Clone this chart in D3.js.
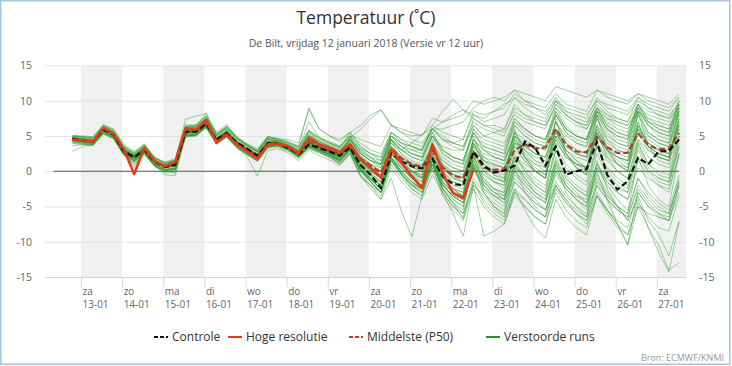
<!DOCTYPE html>
<html>
<head>
<meta charset="utf-8">
<script src="https://cdnjs.cloudflare.com/ajax/libs/d3/7.8.5/d3.min.js"></script>
<style>
body { margin: 0; background: #fff; }
svg { display: block; font-family: "Open Sans", sans-serif; }
</style>
</head>
<body>
<svg id="chart" width="732" height="366"></svg>
<script>
var startTime = "2018-01-12T19:00";   // first forecast step
var stepHours = 6;

var controle = [4.6,4.4,4.2,5.9,5.2,2.8,2.0,3.0,1.3,0.6,0.9,5.6,5.6,6.7,4.5,5.4,4.1,3.2,2.2,4.0,
  3.9,3.3,2.4,3.8,3.3,2.8,2.2,3.4,0.9,-0.5,-2.4,2.6,1.4,0.7,0.4,1.8,-0.7,-1.8,-2.0,2.8,
  0.8,-0.2,0.1,0.8,4.2,3.3,0.8,3.5,-0.5,0.0,0.3,4.2,-0.5,-2.6,-1.4,1.9,1.0,2.8,2.9,4.5];

var hogeResolutie = [4.5,4.4,4.2,6.1,5.3,3.1,-0.4,3.3,1.4,0.7,1.3,6.1,5.9,7.3,4.0,5.2,3.8,2.8,1.8,3.8,
  3.9,3.5,2.5,4.7,3.8,3.3,2.7,3.8,1.7,0.5,-0.9,3.1,1.2,-0.7,-2.4,3.8,-0.2,-3.1,-3.8,0.2];

var middelste = [4.5,4.3,4.1,5.9,5.2,3.0,1.8,3.2,1.4,0.7,1.0,5.5,5.6,6.8,4.4,5.4,4.0,3.0,2.2,4.0,
  3.9,3.4,2.6,4.2,3.4,2.9,2.4,3.6,1.8,0.8,-0.2,3.2,1.8,1.0,0.6,3.0,0.5,-0.6,-1.0,2.6,
  0.5,0.2,0.3,3.0,3.8,3.2,3.4,6.0,3.8,2.8,2.7,4.9,3.4,2.6,2.6,5.4,3.7,3.1,3.2,5.4];

var verstoord = [
 [4.7,4.5,4.3,6.1,5.3,3.0,2.2,3.2,1.4,0.7,1.0,5.8,5.8,7.1,4.7,5.6,4.2,3.1,2.4,4.2, 4.1,3.6,2.8,4.5,3.6,3.0,2.4,4.0,1.8,0.6,-0.5,3.4,2.2,1.2,0.8,3.2,0.8,-0.4,-0.8,3.0, 1.5,0.8,0.5,4.0,3.5,2.5,2.0,5.5,3.0,2.0,1.5,5.0,3.0,2.0,1.5,6.0,4.0,3.0,2.5,6.5],
 [4.4,4.2,4.0,5.7,5.0,2.6,1.6,2.8,1.0,0.3,0.5,5.2,5.3,6.6,4.2,5.2,3.7,2.7,1.8,3.7, 3.6,3.0,2.0,3.8,3.0,2.4,1.6,3.0,0.4,-1.0,-2.5,2.4,1.0,-0.2,-1.0,1.5,-1.5,-3.0,-3.5,1.5, -1.5,-3.0,-3.5,0.5,-0.5,-2.0,-3.0,1.5,-1.0,-2.5,-3.5,1.0,-1.5,-3.0,-4.0,0.5,-1.0,-2.0,-2.5,2.5],
 [5.1,5.0,4.9,6.6,6.0,3.8,2.8,3.9,2.0,1.3,1.8,6.6,6.5,7.9,5.4,6.4,4.9,3.9,3.2,5.0, 4.5,4.0,3.5,5.8,4.6,4.0,3.5,5.0,4.0,3.0,2.5,5.5,4.5,4.0,3.5,6.0,4.5,4.0,3.5,7.0, 6.0,5.5,5.0,8.5,7.5,7.0,6.5,9.5,8.0,7.0,6.5,10.0,8.5,7.5,7.0,10.5,9.0,8.0,7.5,10.0],
 [4.0,3.9,3.7,5.4,4.7,2.3,1.5,2.5,0.8,0.1,0.3,5.0,5.1,6.2,4.0,5.0,3.5,2.4,1.6,3.4, 3.8,3.2,2.2,3.5,3.2,2.6,2.0,3.2,0.5,-1.5,-3.0,2.0,0.5,-1.0,-2.0,1.0,-2.5,-4.0,-5.0,0.5, -2.5,-4.0,-5.0,-1.0,-2.5,-4.0,-5.5,-1.5,-3.5,-5.0,-6.0,-2.0,-4.0,-5.5,-6.5,-2.5,-4.5,-6.0,-7.0,-3.0],
 [4.6,4.4,4.3,6.0,5.2,2.9,2.1,3.1,1.3,0.6,1.0,5.7,5.6,7.0,4.6,5.5,4.0,3.0,2.3,4.1, 4.0,3.4,2.5,4.0,3.4,2.8,2.0,3.5,1.0,-0.5,-2.0,2.5,1.0,0.0,-1.0,2.0,-1.0,-2.5,-3.5,1.5, -1.0,-2.5,-3.5,1.0,-1.0,-2.5,-3.5,0.5,-2.0,-3.5,-4.5,-0.5,-3.0,-5.0,-7.0,-4.0,-8.0,-11.5,-14.3,-7.2],
 [4.5,4.4,4.2,5.9,5.1,2.7,2.0,3.0,1.2,0.5,0.8,5.5,5.6,6.8,4.5,5.4,3.9,2.9,2.0,3.9, 3.8,3.2,2.2,3.6,3.0,2.5,1.8,3.0,0.2,-1.5,-3.0,1.5,-0.5,-2.0,-3.0,0.5,-3.0,-5.0,-6.5,-1.5, -4.0,-5.5,-6.5,-2.5,-4.0,-5.5,-6.5,-2.0,-4.5,-6.0,-7.0,-3.0,-5.5,-7.5,-9.0,-5.0,-8.0,-10.5,-14.0,-13.0],
 [5.0,4.9,4.7,6.4,5.9,3.6,2.7,3.8,1.9,1.2,1.6,6.4,6.4,7.8,5.3,6.3,4.8,3.8,3.0,4.9, 4.4,4.0,3.4,5.5,4.8,4.2,3.6,5.2,4.5,4.0,3.5,6.5,6.0,5.5,5.0,7.5,7.0,7.5,8.0,10.0, 9.5,10.0,10.5,11.5,10.0,9.5,9.0,11.0,9.5,9.0,8.5,11.5,10.5,10.0,9.5,11.0,10.0,9.5,9.0,10.5],
 [4.9,4.8,4.6,6.3,5.6,3.4,2.4,3.6,1.8,1.1,1.5,6.3,6.2,7.6,5.1,6.1,4.6,3.6,2.8,4.6, 4.3,3.8,3.0,5.0,4.2,3.6,3.0,4.6,3.2,2.5,2.0,5.0,4.0,3.5,3.0,6.5,5.5,5.0,4.5,8.5, 8.0,8.5,9.0,11.0,10.0,9.0,8.0,10.5,8.5,7.5,7.0,9.5,8.0,7.0,6.5,9.0,8.0,7.5,7.0,9.5],
 [4.6,4.5,4.2,6.0,5.2,2.8,1.9,3.0,1.3,0.6,0.9,5.6,5.6,6.9,4.5,5.5,4.0,3.0,2.2,4.0, 3.9,3.4,2.5,4.5,3.4,2.8,2.0,4.0,1.5,0.0,-1.5,3.5,1.5,0.0,-1.0,3.5,0.0,-1.5,-2.0,4.0, 1.0,-0.5,-1.5,5.0,2.0,0.0,-1.0,6.0,2.5,0.5,-0.5,6.5,3.0,1.0,0.0,7.0,3.5,2.0,1.5,7.5],
 [4.7,4.6,4.4,6.2,5.5,3.1,2.2,3.3,1.6,0.9,1.4,6.4,6.6,7.8,5.0,6.3,4.6,3.6,2.8,4.8, 4.6,4.5,4.0,8.8,6.0,5.0,4.5,5.5,6.5,8.0,8.7,6.5,5.5,5.0,5.2,6.0,7.0,8.0,8.7,7.5, 6.5,6.0,5.5,8.0,7.0,6.5,6.0,9.5,8.0,7.0,6.5,9.0,8.0,7.5,7.0,9.5,8.5,8.0,7.5,9.0],
 [4.2,4.0,3.8,5.5,4.7,2.3,1.4,2.4,0.7,0.0,0.2,4.9,5.0,6.2,3.9,4.9,3.4,2.4,1.5,3.4, 3.7,3.1,2.0,3.5,2.8,2.0,1.0,2.5,-0.5,-2.0,-4.0,-1.0,-5.7,-9.3,-3.5,2.4,-1.5,-4.0,-5.0,1.0, -2.0,-3.5,-4.5,-0.5,-2.0,-3.5,-4.5,0.0,-2.0,-3.5,-4.0,1.0,-1.0,-2.5,-3.0,2.0,0.0,-1.0,-1.5,3.5],
 [4.6,4.4,4.2,5.9,5.1,2.8,2.0,2.9,1.2,0.5,0.8,5.5,5.5,6.8,4.4,5.4,3.9,2.9,2.1,3.9, 3.8,3.2,2.3,3.6,3.0,2.4,1.6,3.2,0.5,-1.0,-2.5,2.0,0.0,-1.5,-2.5,1.5,-3.0,-6.0,-9.2,-2.0, -3.5,-5.0,-6.0,-1.5,-3.0,-4.5,-5.5,-0.5,-2.5,-4.0,-5.0,0.5,-1.5,-3.0,-4.0,1.5,-0.5,-2.0,-3.0,2.5],
 [4.8,4.6,4.4,6.1,5.3,3.0,2.1,3.2,1.4,0.7,1.1,5.8,5.8,7.1,4.7,5.7,4.1,3.1,2.3,4.1, 4.0,3.6,2.8,4.6,3.8,3.0,2.4,4.2,2.0,1.0,0.5,4.0,3.0,4.0,5.2,6.5,8.5,10.2,8.7,8.0, 7.5,8.5,9.5,10.4,9.0,8.0,7.5,10.0,8.0,7.0,6.0,9.0,7.5,6.5,6.0,8.5,7.0,6.5,6.0,8.0],
 [3.9,3.8,3.6,5.3,4.6,2.3,1.4,2.5,0.7,-0.1,0.2,4.9,5.0,6.2,3.9,4.8,3.3,2.3,1.4,3.3, 3.7,3.0,2.0,3.4,2.8,2.2,1.4,3.0,0.0,-1.5,-3.0,1.5,-0.5,-2.0,-3.0,1.0,-2.5,-4.5,-6.0,-2.0, -9.2,-8.5,-7.5,-3.0,-4.0,-5.5,-6.5,-2.0,-4.0,-5.5,-6.5,-1.5,-3.5,-5.0,-6.0,-1.0,-3.0,-4.5,-5.5,-0.5],
 [4.6,4.4,4.2,6.0,5.3,3.1,0.5,3.2,1.4,0.7,1.3,6.0,5.8,7.2,4.2,5.3,3.8,2.9,1.9,3.9, 3.9,3.5,2.6,4.6,3.8,3.3,2.7,3.8,1.8,0.5,-0.8,3.1,1.3,-0.5,-2.2,3.7,0.0,-2.8,-3.5,0.5, -0.5,-1.5,-2.0,2.0,1.0,0.0,-0.5,4.0,2.0,1.0,0.5,5.0,3.0,2.0,1.5,5.5,3.5,2.5,2.0,6.0],
 [4.5,4.4,4.3,6.0,5.2,2.9,1.2,3.1,1.3,0.6,1.0,5.8,5.7,7.0,4.4,5.4,3.9,3.0,2.0,3.9, 4.0,3.5,2.7,5.0,3.8,3.2,2.5,4.0,2.0,0.8,0.0,4.5,2.5,1.0,0.0,4.0,1.0,-0.5,-1.0,4.5, 3.0,2.5,2.0,6.5,5.0,4.0,3.5,8.0,5.5,4.0,3.5,8.5,6.0,4.5,4.0,9.0,6.5,5.0,4.5,9.0],
 [4.7,4.5,4.3,5.9,5.2,2.9,2.3,3.1,1.5,0.8,1.0,5.5,5.5,6.8,4.6,5.6,4.1,3.1,2.3,4.1, 4.0,3.5,2.6,4.2,3.5,3.0,2.4,3.8,1.5,0.2,-1.0,3.0,1.5,0.5,0.0,3.0,0.5,-0.5,-1.0,3.5, 1.5,1.0,0.5,3.5,2.0,1.0,0.5,4.5,2.0,1.0,0.5,4.0,2.0,1.0,0.5,4.5,3.0,2.0,1.5,5.0],
 [4.2,4.0,3.9,5.5,4.8,2.4,1.2,2.6,0.8,-0.5,-0.6,5.0,5.1,6.3,4.0,4.9,3.4,2.4,1.5,3.4, 3.6,3.0,2.0,3.2,2.6,2.0,1.2,2.6,-0.5,-2.5,-4.0,0.5,-1.5,-3.0,-4.0,-0.5,-3.0,-5.0,-6.0,-1.0, -3.0,-4.5,-5.5,-1.5,-3.0,-4.5,-5.5,-2.0,-4.0,-6.0,-7.5,-3.5,-5.5,-7.5,-10.5,-5.0,-6.0,-6.5,-7.0,-2.0],
 [4.7,4.5,4.3,6.1,5.4,3.0,2.2,3.3,1.5,0.8,1.1,5.7,5.7,7.0,4.7,5.7,4.2,3.2,2.4,4.3, 4.2,3.7,3.0,5.5,4.5,3.8,3.2,5.0,3.0,2.0,1.5,5.0,3.5,2.5,2.0,5.5,3.0,2.0,1.5,6.0, 4.0,3.5,3.0,7.5,6.0,5.0,4.5,9.0,6.5,5.0,4.5,9.0,6.5,5.5,5.0,9.5,7.0,6.0,5.5,9.5],
 [4.5,4.4,4.2,5.9,5.2,2.8,1.7,3.0,1.2,0.5,0.8,5.5,5.4,6.7,4.3,5.4,3.9,2.9,2.0,3.9, 3.8,3.2,2.3,3.8,3.1,2.5,1.6,3.2,0.5,-1.0,-2.0,2.5,0.5,-1.0,-1.5,2.5,-1.0,-2.5,-3.0,2.0, -1.0,-2.5,-3.0,2.5,0.0,-2.0,-3.0,3.0,-0.5,-2.0,-3.0,3.5,0.0,-1.5,-2.5,3.5,0.5,-1.0,-1.5,4.0],
 [4.8,4.5,4.3,6.0,5.3,3.0,2.1,3.1,1.4,0.7,1.0,5.7,5.6,6.9,4.6,5.6,4.1,3.1,2.3,4.1, 4.0,3.4,2.5,4.3,3.6,3.0,2.4,3.9,1.6,0.4,-0.8,3.2,1.8,0.6,0.0,3.3,0.8,-0.8,-1.5,3.0, 0.5,-0.5,-1.0,4.5,2.5,1.0,0.0,6.0,3.0,1.5,0.5,6.0,3.5,2.0,1.0,6.5,3.5,2.5,2.0,7.0],
 [4.6,4.4,4.2,5.9,5.3,2.9,2.1,3.1,1.3,0.6,0.9,5.6,5.7,7.0,4.5,5.5,4.0,3.0,2.2,4.0, 4.0,3.4,2.5,4.0,3.3,2.7,2.0,3.6,1.0,-0.5,-1.5,3.0,1.0,-0.5,-1.0,2.5,-0.5,-2.0,-2.5,2.5, 0.0,-1.0,-1.5,3.0,1.5,0.0,-1.0,4.5,2.0,0.5,-0.5,5.0,2.5,1.0,0.0,5.5,3.0,2.0,1.5,6.0],
 [4.7,4.6,4.4,6.1,5.4,3.1,2.3,3.2,1.5,0.8,1.2,5.9,5.9,7.2,4.7,5.7,4.2,3.2,2.4,4.2, 4.1,3.6,2.8,5.2,4.2,3.5,2.8,4.5,2.5,1.5,1.0,4.5,3.0,2.5,2.0,5.0,3.5,3.0,3.0,6.5, 5.0,5.5,6.0,9.5,8.0,7.0,6.5,9.0,7.5,6.5,6.0,8.5,7.5,7.0,6.5,8.5,7.5,7.0,6.5,8.5],
 [3.6,3.8,3.7,5.3,4.6,2.3,1.1,2.3,0.7,-0.2,0.0,5.1,5.2,6.3,3.9,4.9,3.4,2.4,1.4,3.4, 3.6,3.0,2.0,3.4,2.8,2.2,1.4,2.9,0.0,-1.5,-3.0,1.5,0.5,-1.0,-2.0,1.5,-2.0,-3.5,-4.5,0.5, -2.0,-3.0,-4.0,0.0,-1.5,-3.0,-4.0,1.0,-1.5,-3.0,-4.5,0.5,-2.0,-4.0,-5.5,-1.0,-3.5,-5.0,-6.0,-1.5],
 [4.6,4.5,4.3,6.1,5.2,2.9,2.0,3.3,1.4,0.7,1.1,5.9,5.7,7.2,4.5,5.8,4.1,3.1,2.2,4.3, 4.0,3.4,2.5,5.8,3.8,3.0,2.2,5.0,1.5,0.0,-1.0,4.5,1.0,-1.0,-2.0,4.5,-0.5,-2.5,-3.5,5.0, 1.5,0.0,-1.0,6.0,2.0,0.0,-1.0,7.5,2.5,0.5,-0.5,8.0,3.0,1.0,0.0,8.5,3.5,1.5,1.0,9.0],
 [4.7,4.4,4.2,6.0,5.1,2.8,2.1,3.1,1.3,0.6,0.9,5.5,5.5,6.8,4.5,5.5,4.0,3.0,2.2,4.0, 3.9,3.3,2.4,4.0,3.3,2.8,2.1,3.4,1.2,0.0,-1.0,3.0,1.8,1.0,0.5,3.5,1.5,0.5,0.0,4.0, 2.5,2.0,1.5,5.0,4.0,3.5,3.0,6.0,4.0,3.0,2.5,6.5,4.5,3.5,3.0,7.0,5.0,4.0,3.5,7.5],
 [4.5,4.3,4.1,5.8,5.0,2.7,1.9,2.9,1.2,0.5,0.8,5.4,5.5,6.7,4.4,5.4,3.9,2.9,2.1,3.8, 3.7,3.1,2.1,3.7,3.0,2.3,1.5,3.2,0.2,-1.5,-3.0,2.0,-0.5,-2.5,-3.5,1.5,-2.5,-4.5,-5.5,1.0, -3.0,-5.0,-6.0,0.5,-3.0,-5.0,-6.5,1.0,-3.0,-5.0,-6.5,1.5,-2.5,-5.0,-6.0,2.0,-2.0,-4.0,-5.0,2.5],
 [4.6,4.5,4.3,6.0,5.3,3.0,2.2,3.2,1.4,0.7,1.0,5.7,5.7,7.0,4.6,5.6,4.1,3.1,2.3,4.1, 4.1,3.6,2.7,4.8,3.9,3.3,2.6,4.3,2.2,1.0,0.0,4.0,2.5,1.5,1.0,4.0,2.0,1.0,0.5,4.5, 3.0,2.0,1.5,5.5,4.5,3.5,3.0,7.0,5.0,4.0,3.5,7.5,5.0,4.0,3.5,8.0,5.5,4.5,4.0,8.0],
 [5.0,4.9,4.8,6.6,5.8,3.5,2.6,3.7,1.9,1.2,1.6,6.3,6.3,7.6,5.1,6.1,4.6,3.6,2.8,4.6, 4.1,3.6,2.8,5.0,4.0,3.4,2.7,4.5,2.5,1.5,1.0,5.0,3.5,3.0,3.0,6.0,6.0,6.5,7.0,9.0, 10.0,10.5,10.0,11.5,11.0,10.5,10.0,12.0,11.5,11.0,10.5,11.5,11.0,10.5,10.0,11.0,10.5,10.0,9.5,11.0],
 [4.5,4.4,4.2,5.9,5.2,2.8,2.0,3.0,1.3,0.6,0.9,5.6,5.6,6.9,4.5,5.5,4.0,3.0,2.1,4.0, 3.9,3.3,2.4,3.9,3.2,2.6,1.8,3.3,0.7,-0.8,-2.0,2.5,0.5,-1.0,-2.0,2.0,-1.5,-3.0,-4.0,2.0, -0.5,-1.5,-2.0,3.5,1.5,0.0,-1.0,5.0,2.5,1.0,0.5,5.5,3.0,2.0,1.5,6.5,4.0,3.0,2.5,7.0],
 [4.6,4.5,4.3,6.1,5.4,3.0,2.2,3.3,1.5,0.8,1.2,6.0,6.0,7.4,4.8,5.9,4.3,3.3,2.5,4.5, 4.3,3.8,3.2,7.0,4.8,4.0,3.3,5.5,3.5,2.5,1.5,5.5,4.0,3.0,2.5,5.5,3.0,2.0,1.5,5.5, 3.0,2.0,1.5,5.0,3.5,2.5,2.0,6.0,3.5,2.5,2.0,6.0,4.0,3.0,2.5,6.5,4.5,3.5,3.0,7.0],
 [4.4,4.3,4.1,5.8,5.1,2.7,1.8,2.8,1.1,0.4,0.7,5.4,5.4,6.7,4.4,5.3,3.8,2.8,2.0,3.9, 3.7,3.1,2.2,3.6,2.9,2.3,1.5,3.0,0.3,-1.2,-2.5,1.8,-0.2,-1.5,-2.5,1.5,-1.5,-3.0,-3.5,2.0, 0.0,-1.0,-1.5,4.0,2.0,0.5,-0.5,5.0,2.5,1.0,0.0,5.5,2.0,0.0,-1.0,4.0,1.0,-0.5,-1.0,4.5],
 [4.3,4.1,3.9,5.6,4.9,2.5,1.6,2.6,0.9,0.2,0.4,5.2,5.2,6.4,4.2,5.2,3.7,2.7,1.8,3.7, 3.8,3.2,2.3,3.6,3.0,2.4,1.6,3.1,0.4,-1.0,-2.5,2.0,0.0,-1.5,-2.5,1.0,-2.5,-4.5,-6.8,-1.5, -4.5,-6.0,-7.0,-3.0,-5.0,-6.5,-7.5,-3.0,-5.5,-7.0,-8.0,-3.5,-6.0,-8.0,-9.0,-4.5,-6.5,-8.0,-8.5,-3.5],
 [4.7,4.5,4.3,6.0,5.3,2.9,2.1,3.1,1.4,0.7,1.0,5.6,5.6,6.9,4.6,5.6,4.1,3.1,2.3,4.1, 4.0,3.5,2.6,4.3,3.5,2.9,2.2,3.8,1.4,0.2,-0.5,3.5,2.0,1.0,0.5,4.0,1.5,0.5,0.0,4.5, 2.0,1.5,1.0,5.5,3.5,2.5,2.0,7.0,4.5,3.0,2.5,8.0,5.5,4.0,3.5,8.5,5.5,4.5,4.0,8.5],
 [4.8,4.6,4.4,6.3,5.5,3.2,2.4,3.5,1.6,0.9,1.5,7.4,7.8,8.2,5.2,6.4,4.6,3.6,2.7,4.6, 4.4,4.0,3.2,5.2,4.3,3.6,2.9,4.6,2.6,1.5,0.8,4.5,3.0,2.0,1.5,5.0,2.5,1.5,1.0,5.5, 3.5,3.0,2.5,6.5,5.0,4.0,3.5,8.0,5.5,4.5,4.0,8.5,6.0,5.0,4.5,9.0,6.5,5.5,5.0,9.5],
 [2.8,3.5,3.8,5.4,4.8,2.5,1.5,2.6,0.9,0.1,-0.3,5.0,5.2,6.4,4.0,5.0,3.5,2.5,1.5,3.5, 3.4,2.8,1.8,3.3,2.6,2.0,1.0,2.6,-0.5,-2.0,-3.5,1.0,-1.0,-2.5,-3.5,0.5,-3.5,-5.5,-7.0,-2.5, -5.0,-6.5,-7.5,-3.5,-5.0,-6.5,-7.5,-2.5,-4.5,-6.0,-7.0,-2.0,-4.0,-5.5,-6.5,-2.0,-4.0,-5.5,-6.0,-1.5],
 [4.5,4.3,4.1,5.7,5.0,2.6,1.7,2.8,1.0,0.2,0.5,5.2,5.3,6.5,4.1,5.0,3.3,2.0,-0.7,3.0, 3.2,2.6,1.5,3.0,2.2,1.6,0.8,2.4,-0.8,-2.0,-3.0,1.5,-0.5,-2.0,-2.5,1.0,-2.0,-3.5,-4.0,1.5, -1.5,-2.5,-3.0,2.0,0.0,-1.5,-2.5,3.0,0.5,-1.0,-2.0,3.5,0.5,-1.0,-2.0,4.0,1.0,0.0,-0.5,5.0],
 [4.7,4.6,4.4,6.2,5.5,3.2,2.3,3.4,1.6,0.9,1.3,6.2,6.4,8.3,5.5,6.7,4.8,3.8,2.9,4.8, 4.7,4.2,3.5,5.8,4.8,4.0,3.4,5.0,3.0,2.0,1.0,4.5,3.5,2.5,2.0,5.0,3.0,2.0,1.5,6.0, 4.5,4.0,3.5,7.0,6.0,5.0,4.5,8.0,6.0,5.0,4.5,8.0,6.0,5.0,4.5,8.5,6.5,5.5,5.0,9.0],
 [4.9,4.8,4.6,6.4,5.6,3.4,2.5,3.6,1.8,1.1,1.4,6.1,6.2,7.6,5.0,6.1,4.6,3.7,2.9,4.9, 4.5,4.2,3.5,9.0,6.0,5.0,4.2,5.5,3.5,2.5,2.0,5.5,4.5,3.5,3.0,6.0,4.5,3.5,3.0,7.5, 6.5,6.5,6.0,9.0,8.0,7.5,7.0,10.0,8.5,8.0,7.5,10.5,9.0,8.5,8.0,10.0,9.0,8.5,8.0,9.5],
 [4.6,4.4,4.2,6.0,5.2,2.9,2.0,3.1,1.3,0.6,1.0,5.6,5.6,6.9,4.5,5.6,4.1,3.1,2.2,4.1, 4.1,3.6,2.8,4.5,3.8,3.2,2.6,4.8,5.9,7.5,8.7,6.6,5.5,4.5,4.0,6.0,5.0,4.0,3.5,6.5, 5.0,4.5,4.0,7.5,6.0,5.0,4.5,8.5,6.0,5.0,4.5,8.5,7.0,6.0,5.5,9.5,7.5,6.5,6.0,10.0],
 [4.5,4.4,4.2,5.9,5.2,2.8,2.0,3.0,1.3,0.6,0.8,5.5,5.6,6.8,4.5,5.5,4.0,3.0,2.2,4.0, 3.9,3.3,2.4,4.2,3.3,2.6,1.9,3.6,1.0,-0.5,-1.5,3.0,1.5,0.0,-0.5,3.5,0.5,-1.0,-1.5,4.0, 1.5,0.5,0.0,4.5,3.0,1.5,0.5,5.5,3.0,1.5,0.5,5.5,3.0,1.5,0.5,6.0,3.5,2.5,2.0,6.5],
 [4.7,4.5,4.3,6.0,5.3,2.9,2.2,3.1,1.4,0.7,1.0,5.7,5.6,6.9,4.6,5.6,4.1,3.1,2.3,4.1, 4.0,3.4,2.5,4.0,3.4,2.8,2.1,3.5,1.2,-0.3,-1.5,2.8,1.2,0.0,-0.8,2.8,0.0,-1.5,-2.0,3.0, 0.0,-1.5,-2.5,2.0,0.5,-1.0,-2.0,3.5,1.0,-0.5,-1.5,4.0,1.5,0.0,-1.0,4.5,2.0,1.0,0.5,5.0],
 [4.1,4.0,3.8,5.5,4.8,2.4,1.5,2.6,0.8,0.1,0.3,5.1,5.1,6.4,4.1,5.1,3.6,2.6,1.8,3.6, 3.7,3.1,2.1,3.5,2.8,2.1,1.2,2.8,0.0,-1.5,-3.0,1.5,-0.5,-2.0,-3.0,1.0,-2.0,-3.5,-4.5,0.5, -3.0,-5.0,-6.5,-2.5,-5.5,-8.0,-9.5,-4.0,-6.5,-8.0,-9.0,-3.5,-5.5,-7.0,-8.0,-3.0,-5.0,-6.5,-7.0,-2.0],
 [4.6,4.5,4.3,6.0,5.3,3.0,2.2,3.2,1.4,0.7,1.0,5.7,5.7,7.0,4.6,5.6,4.1,3.1,2.3,4.1, 4.1,3.6,2.7,4.4,3.6,3.0,2.4,4.0,2.0,1.0,0.0,3.5,2.0,1.0,0.5,3.5,1.0,0.0,-0.5,3.5, 2.0,1.0,0.5,4.0,3.0,2.0,1.5,5.0,3.5,2.5,2.0,5.5,3.5,2.5,2.0,6.0,4.0,3.0,2.5,6.5],
 [4.7,4.5,4.3,6.1,5.3,3.0,2.1,3.2,1.4,0.7,1.1,5.8,5.7,7.0,4.6,5.7,4.2,3.2,2.4,4.2, 4.1,3.6,2.8,4.8,4.0,3.3,2.6,4.4,2.5,1.5,0.5,4.5,3.0,2.0,1.5,5.0,2.5,1.5,1.0,5.5, 3.5,3.0,2.5,7.0,5.5,4.5,4.0,8.5,6.0,5.0,4.5,9.0,6.5,5.5,5.0,9.5,7.0,6.0,5.5,10.0],
 [4.3,4.2,4.0,5.6,4.9,2.5,0.8,2.7,0.9,0.2,0.4,5.2,5.2,6.5,4.1,5.1,3.6,2.6,1.8,3.6, 3.8,3.2,2.2,3.6,2.9,2.3,1.5,3.0,0.2,-1.2,-2.5,1.8,-0.3,-1.8,-2.5,1.5,-2.0,-3.5,-4.5,1.0, -1.5,-3.0,-4.0,1.0,-1.5,-3.0,-4.5,1.5,-2.0,-4.0,-5.5,0.0,-4.0,-7.5,-10.4,-3.0,-5.0,-6.0,-6.5,-1.0],
 [4.6,4.4,4.2,5.9,5.2,2.9,2.0,3.1,1.3,0.6,0.9,5.6,5.6,6.9,4.5,5.5,4.0,3.0,2.2,4.0, 3.9,3.4,2.5,4.4,3.5,2.9,2.2,3.8,1.5,0.2,-0.8,3.5,1.5,0.0,-0.5,3.5,0.5,-1.0,-1.5,4.0, 1.0,0.0,-0.5,5.5,3.0,1.5,1.0,7.0,4.0,2.5,2.0,7.5,4.5,3.0,2.5,8.0,5.0,4.0,3.5,8.5],
 [4.6,4.4,4.2,5.9,5.2,2.8,2.0,3.0,1.3,0.6,0.9,5.6,5.6,6.9,4.5,5.5,4.0,3.0,2.2,4.0, 3.9,3.3,2.4,3.9,3.2,2.6,1.8,3.3,0.8,-0.6,-1.8,2.6,0.8,-0.6,-1.4,2.4,-1.0,-2.5,-3.0,2.5, -2.0,-3.5,-4.0,1.5,-1.0,-3.0,-4.0,2.0,-1.0,-2.5,-3.5,2.5,-0.5,-2.0,-3.0,3.0,0.0,-1.5,-2.0,3.5],
 [5.0,4.9,4.7,6.4,5.7,3.4,2.5,3.6,1.8,1.1,1.5,6.2,6.2,7.5,5.0,6.0,4.5,3.5,2.7,4.6, 4.2,3.7,2.9,5.0,4.2,3.5,2.9,4.6,2.8,1.8,1.0,5.0,4.0,3.5,3.0,6.0,4.5,4.0,4.5,8.0, 7.0,7.5,8.0,10.5,9.5,9.0,8.5,10.0,9.0,8.5,8.0,10.0,9.5,9.0,8.5,10.5,9.5,9.0,8.5,10.5],
 [4.2,4.1,4.0,5.7,4.9,2.5,1.7,2.7,0.9,0.1,0.4,5.1,5.1,6.4,4.0,5.0,3.5,2.5,1.7,3.5, 3.8,3.2,2.3,3.7,3.0,2.4,1.6,3.1,0.3,-1.2,-2.5,2.0,0.0,-1.5,-2.5,1.5,-2.0,-3.5,-4.5,1.0, -2.5,-3.5,-4.5,0.0,-2.0,-3.5,-4.5,0.0,-2.5,-4.0,-5.0,-1.0,-3.5,-5.0,-7.0,-3.5,-7.0,-9.0,-12.0,-7.0]
];

var dayNames = ["za","zo","ma","di","wo","do","vr","za","zo","ma","di","wo","do","vr","za"];
var dayDates = ["13-01","14-01","15-01","16-01","17-01","18-01","19-01","20-01","21-01","22-01","23-01","24-01","25-01","26-01","27-01"];
var yTicks = [-15,-10,-5,0,5,10,15];
var legendNames = ["Controle","Hoge resolutie","Middelste (P50)","Verstoorde runs"];

var titleText = "Temperatuur (\u02DAC)";
var subtitleText = "De Bilt, vrijdag 12 januari 2018 (Versie vr 12 uur)";
var creditText = "Bron: ECMWF/KNMI";

// ---- layout ----
var W = 732, H = 366;
var plotLeft = 45, plotRight = 686, plotTop = 65.5, plotBottom = 277;

var svg = d3.select("#chart");
var parseT = d3.timeParse("%Y-%m-%dT%H:%M");
var t0 = parseT(startTime);
var times = d3.range(controle.length).map(function(i){ return d3.timeHour.offset(t0, i*stepHours); });
var days = dayDates.map(function(d){ return parseT("2018-" + d.slice(3) + "-" + d.slice(0,2) + "T00:00"); });

var x = d3.scaleTime()
	.domain([parseT("2018-01-12T03:00"), parseT("2018-01-27T17:00")])
	.range([plotLeft, plotRight]);
var y = d3.scaleLinear().domain([-15, 15]).range([plotBottom, plotTop]);

//outer frame
svg.append("rect")
	.attr("x", 0.75).attr("y", 0.75)
	.attr("width", W - 3).attr("height", H - 2.5)
	.style("fill", "#fff").style("stroke", "#a9c5dd").style("stroke-width", 1.5);

//grey bands every other day
svg.selectAll("rect.band")
	.data(days.filter(function(d, i){ return i % 2 == 0; }))
	.enter().append("rect")
	.attr("class", "band")
	.attr("x", function(d){ return x(d); })
	.attr("y", plotTop)
	.attr("width", function(d){ return Math.min(x(d3.timeDay.offset(d, 1)), plotRight) - x(d); })
	.attr("height", plotBottom - plotTop)
	.style("fill", "#f0f0f0");

//horizontal grid
svg.append("g")
	.attr("transform", "translate(" + plotLeft + ",0)")
	.call(d3.axisLeft(y).tickValues(yTicks).tickSize(-(plotRight - plotLeft)).tickFormat(""))
	.call(function(g){ g.select(".domain").remove(); g.selectAll("line").style("stroke", "#e3e3e3"); });

//y labels left & right
var yLab = function(d){ return String(d); };
svg.append("g")
	.attr("transform", "translate(32,0)")
	.call(d3.axisLeft(y).tickValues(yTicks).tickSize(0).tickPadding(0).tickFormat(yLab))
	.call(function(g){
		g.select(".domain").remove();
		g.selectAll("text").style("font-family", "Open Sans").style("font-size", "10.5px").style("fill", "#666");
	});
svg.append("g")
	.attr("transform", "translate(699,0)")
	.call(d3.axisRight(y).tickValues(yTicks).tickSize(0).tickPadding(0).tickFormat(yLab))
	.call(function(g){
		g.select(".domain").remove();
		g.selectAll("text").style("font-family", "Open Sans").style("font-size", "10.5px").style("fill", "#666");
	});

//x axis, two-line labels (day name / date)
var xAxis = svg.append("g")
	.attr("transform", "translate(0," + plotBottom + ")")
	.call(d3.axisBottom(x).tickValues(days).tickSize(10).tickSizeOuter(0).tickFormat(""));
xAxis.select(".domain").attr("d", "M" + plotLeft + ",0.5H" + plotRight).style("stroke", "#ccd6eb");
xAxis.selectAll(".tick line").style("stroke", "#ccd6eb");
xAxis.selectAll(".tick text").remove();
xAxis.selectAll(".tick").each(function(d, i){
	var g = d3.select(this);
	g.append("text").attr("x", 1).attr("y", 17.5).text(dayNames[i]);
	g.append("text").attr("x", 1).attr("y", 30.5).text(dayDates[i]);
	g.selectAll("text")
		.attr("text-anchor", "start")
		.style("font-family", "Open Sans").style("font-size", "10px").style("fill", "#666");
});

//zero line
svg.append("line")
	.attr("x1", x(parseT("2018-01-12T08:00")))
	.attr("x2", x(times[times.length - 1]))
	.attr("y1", y(0)).attr("y2", y(0))
	.style("stroke", "#555").style("stroke-width", 1);

var line = d3.line()
	.x(function(d, i){ return x(times[i]); })
	.y(function(d){ return y(d); })
	.curve(d3.curveLinear);

//ensemble members
svg.append("g").selectAll("path")
	.data(verstoord)
	.enter().append("path")
	.attr("d", line)
	.style("fill", "none")
	.style("stroke", "#339933")
	.style("stroke-opacity", 0.45)
	.style("stroke-width", 1);

svg.append("path")
	.datum(middelste)
	.attr("d", line)
	.style("fill", "none").style("stroke", "#a8402f").style("stroke-width", 2.2)
	.style("stroke-dasharray", "6,3");

svg.append("path")
	.datum(controle)
	.attr("d", line)
	.style("fill", "none").style("stroke", "#111").style("stroke-width", 2.2)
	.style("stroke-dasharray", "6,3");

svg.append("path")
	.datum(hogeResolutie)
	.attr("d", line)
	.style("fill", "none").style("stroke", "#e6391a").style("stroke-width", 2.5)
	.style("stroke-linejoin", "round");

//titles
svg.append("text")
	.attr("x", W/2).attr("y", 24)
	.attr("text-anchor", "middle")
	.style("font-family", "Open Sans").style("font-size", "17.5px").style("fill", "#333")
	.text(titleText);
svg.append("text")
	.attr("x", W/2).attr("y", 47)
	.attr("text-anchor", "middle")
	.style("font-family", "Open Sans").style("font-size", "10.5px").style("fill", "#555")
	.text(subtitleText);

//legend
var legendX = [154, 228, 349, 486];
var legendSymbol = [
	{stroke: "#111", dash: "4,2"},
	{stroke: "#e6391a", dash: null},
	{stroke: "#c0392b", dash: "4,2"},
	{stroke: "#2a8f2a", dash: null}
];
var legend = svg.selectAll("g.legend")
	.data(legendNames)
	.enter().append("g")
	.attr("class", "legend")
	.attr("transform", function(d, i){ return "translate(" + legendX[i] + ",337)"; });
legend.append("line")
	.attr("x1", 0).attr("x2", 14).attr("y1", 0).attr("y2", 0)
	.style("stroke", function(d, i){ return legendSymbol[i].stroke; })
	.style("stroke-width", 2)
	.style("stroke-dasharray", function(d, i){ return legendSymbol[i].dash; });
legend.append("text")
	.attr("x", 18).attr("y", 4)
	.style("font-family", "Open Sans").style("font-size", "12px").style("fill", "#333")
	.text(function(d){ return d; });

svg.append("text")
	.attr("x", 724).attr("y", 361)
	.attr("text-anchor", "end")
	.style("font-family", "Open Sans").style("font-size", "9px").style("fill", "#999")
	.text(creditText);
</script>
</body>
</html>
